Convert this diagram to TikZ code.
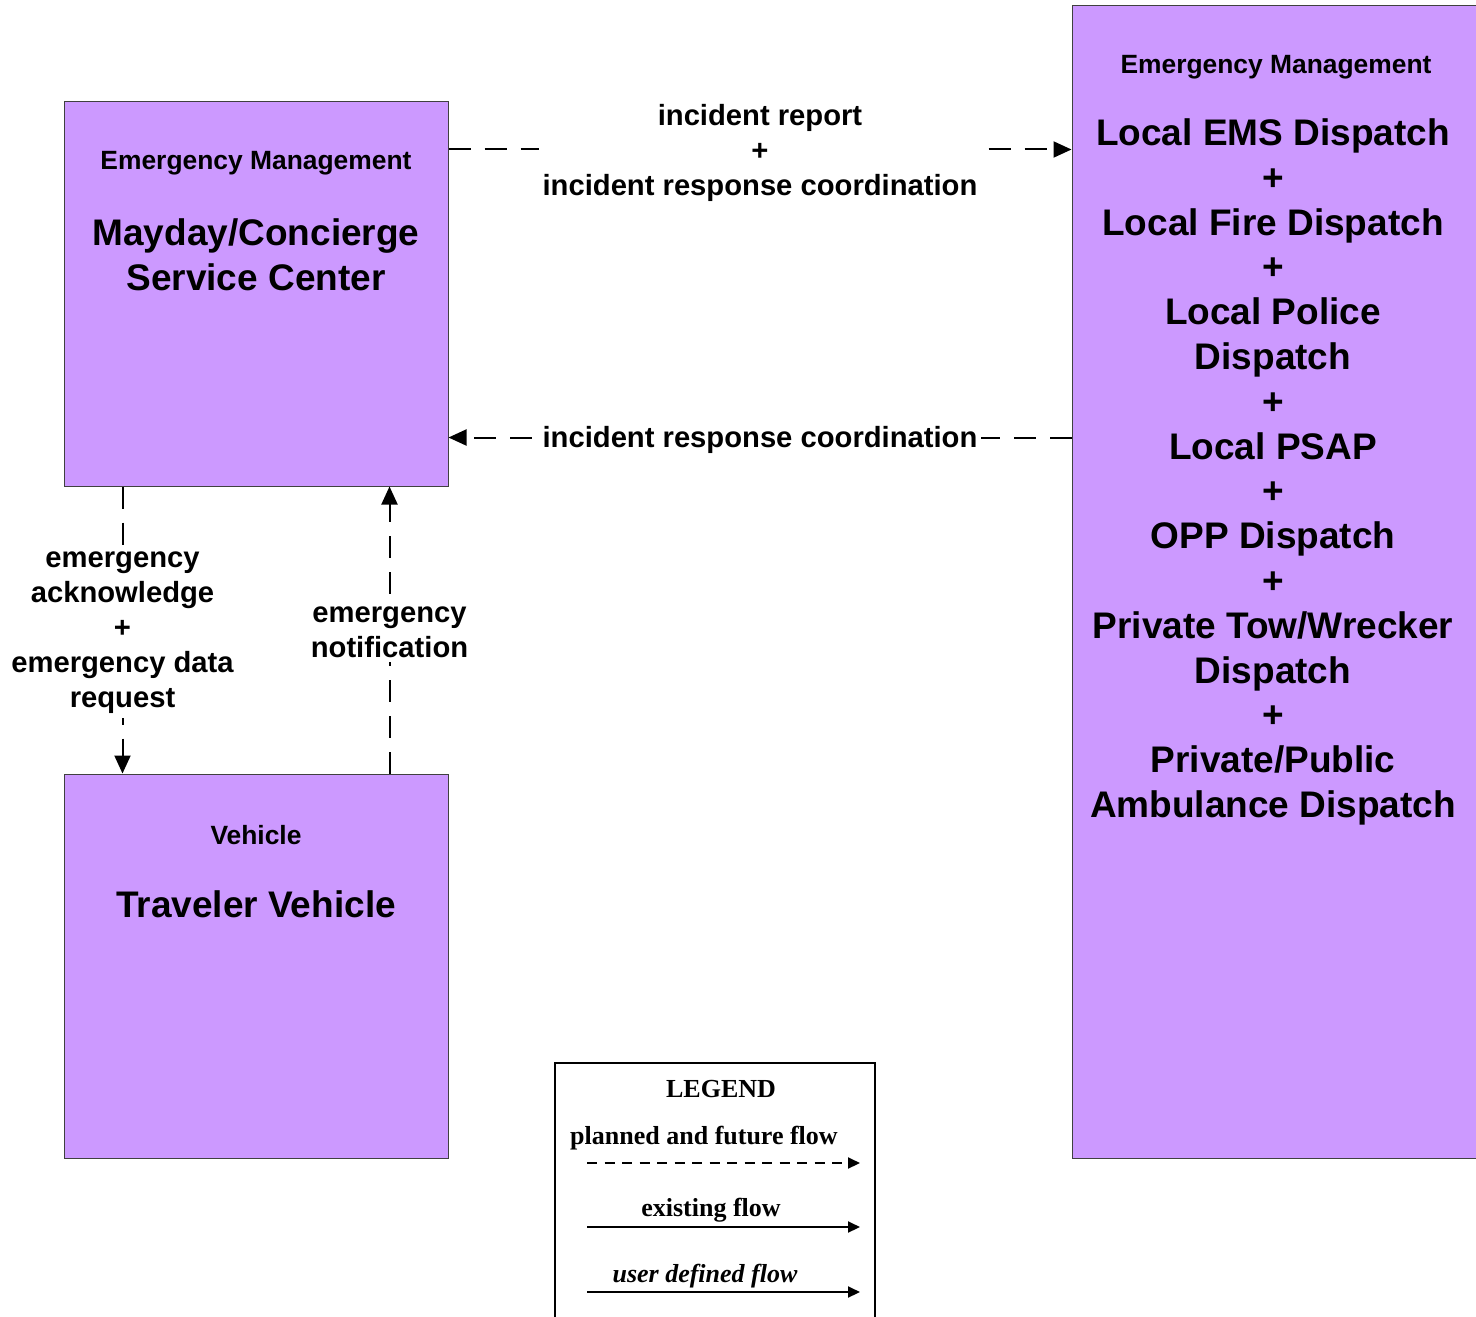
\documentclass[tikz,border=0pt]{standalone}
\usepackage{xcolor}
\usepackage{fontspec}
\setmainfont{Liberation Sans}
\newfontfamily\legendfont{Liberation Serif}
\usetikzlibrary{arrows.meta, positioning}
\definecolor{boxpurple}{HTML}{CC99FF}

\begin{document}
\begin{tikzpicture}[x=0.5pt, y=-0.5pt,
			>={Triangle[length=9pt, width=8pt]},
			box/.style={draw=black!75, fill=boxpurple, line width=0.5pt, inner sep=0pt},
			flow/.style={->, line width=1pt, dash pattern=on 11pt off 7pt},
			kind/.style={font=\fontsize{13.2}{16}\selectfont\bfseries},
			title/.style={font=\fontsize{18.5}{22.4}\selectfont\bfseries, align=center},
			flowlabel/.style={font=\fontsize{14.6}{17.5}\selectfont\bfseries, align=center, fill=white, inner sep=2pt},
			legendtext/.style={font=\legendfont\fontsize{13}{15}\selectfont\bfseries},
			legendflow/.style={-{Triangle[length=6pt, width=5.5pt]}, line width=1pt}]
			
			\useasboundingbox (0,0) rectangle (1476,1316);
			
			\node[box, minimum width=192pt, minimum height=192pt] (msc) at (256,294) {};
			\node[box, minimum width=192pt, minimum height=192pt] (veh) at (256,966) {};
			\node[box, minimum width=208pt, minimum height=576pt] (ems) at (1280,582) {};
			\node[draw=black, line width=1.2pt, minimum width=160pt, minimum height=133.5pt] (lgdbox) at (715,1196.5) {};
			
			\node[kind] (msckind) at (256,163) {Emergency Management};
			\node[title] (msctitle) at (256,255) {Mayday/Concierge\\Service Center};
			\node[kind] (vehkind) at (256,835) {Vehicle};
			\node[title] (vehtitle) at (256,904) {Traveler Vehicle};
			\node[kind] (emskind) at (1276,67) {Emergency Management};
			\node[title] (emstitle) at (1273,472) {Local EMS Dispatch\\+\\Local Fire Dispatch\\+\\Local Police\\Dispatch\\+\\Local PSAP\\+\\OPP Dispatch\\+\\Private Tow/Wrecker\\Dispatch\\+\\Private/Public\\Ambulance Dispatch};
			
			\coordinate (t1) at ([yshift=-24pt]msc.north east);
			\coordinate (b1) at ([yshift=24.5pt]msc.south east);
			\coordinate (d1) at ([xshift=29.5pt]msc.south west);
			\coordinate (u1) at ([xshift=-29.5pt]veh.north east);
			
			\draw[flow] (t1) -- (t1 -| ems.west) node[midway, flowlabel, yshift=-1.5pt] {incident report\\+\\incident response coordination};
			\draw[flow] (b1 -| ems.west) -- (b1) node[midway, flowlabel, yshift=-1pt] {incident response coordination};
			\draw[flow] (d1) -- (d1 |- veh.north) node[midway, flowlabel, yshift=-1.5pt] {emergency\\acknowledge\\+\\emergency data\\request};
			\draw[flow] (u1) -- (u1 |- msc.south) node[midway, flowlabel, yshift=-1pt] {emergency\\notification};
			
			\node[legendtext] (lgd) at (721,1089) {LEGEND};
			\node[legendtext] (planned) at (704,1138) {planned and future flow};
			\node[legendtext] (existing) at (711,1210) {existing flow};
			\node[legendtext] (userdef) at (705,1276) {\itshape user defined flow};
			\coordinate (p1) at (587,1163);
			\coordinate (p2) at (860,1163);
			\coordinate (e1) at (587,1227);
			\coordinate (e2) at (860,1227);
			\coordinate (f1) at (587,1292);
			\coordinate (f2) at (860,1292);
			\draw[legendflow, dash pattern=on 5pt off 3.75pt] (p1) -- (p2);
			\draw[legendflow] (e1) -- (e2);
			\draw[legendflow] (f1) -- (f2);
		\end{tikzpicture}
\end{document}
